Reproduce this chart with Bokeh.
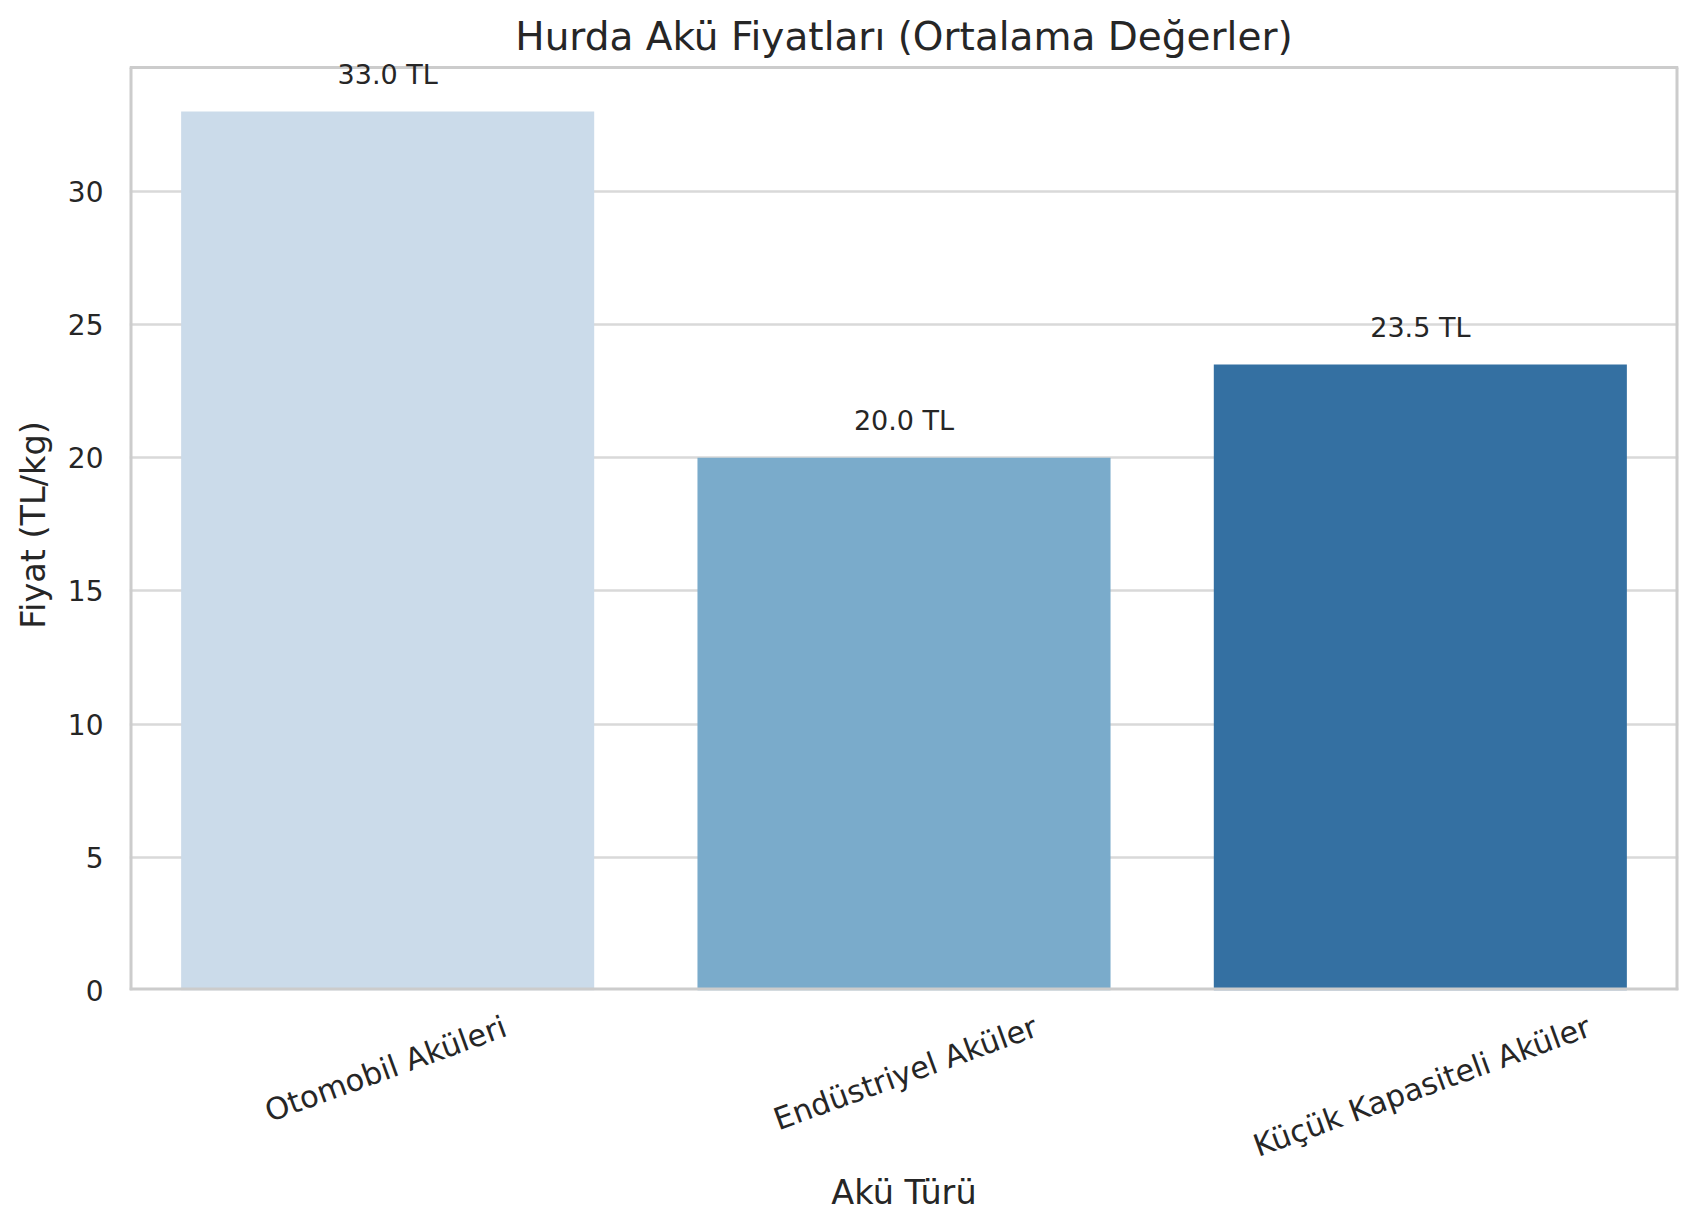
import math
from bokeh.plotting import figure
from bokeh.models import ColumnDataSource, LabelSet, Range1d, FixedTicker
from bokeh.core.properties import value
from bokeh.embed import file_html
from bokeh.resources import INLINE

categories = ["Otomobil Aküleri", "Endüstriyel Aküler", "Küçük Kapasiteli Aküler"]
prices = [33.0, 20.0, 23.5]
bar_colors = ["#cbdbea", "#7aabcb", "#3470a2"]
y_ticks = [0, 5, 10, 15, 20, 25, 30]

FONT = "DejaVu Sans"
TXT = "#262626"
EDGE = "#cccccc"
YTICK_FS = 28
XTICK_FS = 30.5
AXLAB_FS = "33.5px"
ANG = math.radians(20)

n = len(categories)
PX_PER_CAT = 1549 / n                     # horizontal pixels per category slot
y_top = max(prices) * 1.05                # axes top (matplotlib-style margin)
y_pad = 8 / (931 - 8) * y_top             # few px of headroom so top labels are not clipped

xpos = [i + 0.5 for i in range(n)]        # centre of each category slot
value_labels = [f"{v:.1f} TL" for v in prices]
src = ColumnDataSource(dict(x=xpos, cat=categories, val=prices, color=bar_colors,
                            vlab=value_labels))

p = figure(width=1691, height=1223, x_range=Range1d(0, n),
           y_range=Range1d(0, y_top + y_pad),
           output_backend="svg", toolbar_location=None,
           min_border_left=129, min_border_right=13, min_border_top=59, min_border_bottom=233)

p.title.text = "Hurda Akü Fiyatları (Ortalama Değerler)"
p.title.align = "center"
p.title.text_font = FONT
p.title.text_font_size = "39px"
p.title.text_font_style = "normal"
p.title.text_color = TXT
p.title.standoff = 2

p.outline_line_color = None
p.xgrid.grid_line_color = None
p.ygrid.grid_line_color = "#d9d9d9"
p.ygrid.grid_line_width = 2.4
p.ygrid.level = "underlay"

p.vbar(x="x", top="val", width=0.8, fill_color="color", line_color=None, source=src)

# axes spines (left/right/bottom sit on the frame edge, so half is clipped -> double width)
p.segment(x0=[0, n, 0], y0=[0, 0, 0], x1=[0, n, n], y1=[y_top, y_top, 0],
          line_color=EDGE, line_width=6)
p.segment(x0=[0], y0=[y_top], x1=[n], y1=[y_top], line_color=EDGE, line_width=3)

# y axis
yax = p.yaxis[0]
yax.ticker = FixedTicker(ticks=y_ticks)
yax.axis_label = "Fiyat (TL/kg)"
yax.major_label_standoff = 26
yax.axis_label_standoff = 12
yax.major_label_text_font_size = f"{YTICK_FS}px"

# x axis: rotated labels, centred under each bar like matplotlib rotation=20
shifts = [(0.512 * XTICK_FS * len(c) / 2) * math.cos(ANG) / PX_PER_CAT for c in categories]
tick_pos = [x + s for x, s in zip(xpos, shifts)]
xax = p.xaxis[0]
xax.ticker = FixedTicker(ticks=tick_pos)
xax.major_label_overrides = {t: c for t, c in zip(tick_pos, categories)}
xax.major_label_orientation = ANG
xax.axis_label = "Akü Türü"
xax.major_label_standoff = 35
xax.axis_label_standoff = -10
xax.major_label_text_font_size = f"{XTICK_FS}px"

for ax in (xax, yax):
    ax.axis_line_color = None
    ax.major_tick_line_color = None
    ax.minor_tick_line_color = None
    ax.major_tick_in = 0
    ax.major_tick_out = 0
    ax.major_label_text_font = FONT
    ax.major_label_text_color = TXT
    ax.axis_label_text_font = FONT
    ax.axis_label_text_font_size = AXLAB_FS
    ax.axis_label_text_font_style = "normal"
    ax.axis_label_text_color = TXT

val_labels = LabelSet(x="x", y="val", text="vlab", y_offset=37,
                      text_align="center", text_baseline="middle",
                      text_font=value(FONT), text_font_size=value("27px"), text_color=TXT,
                      source=src)
p.add_layout(val_labels)

open("out.html", "w").write(file_html(p, INLINE))
